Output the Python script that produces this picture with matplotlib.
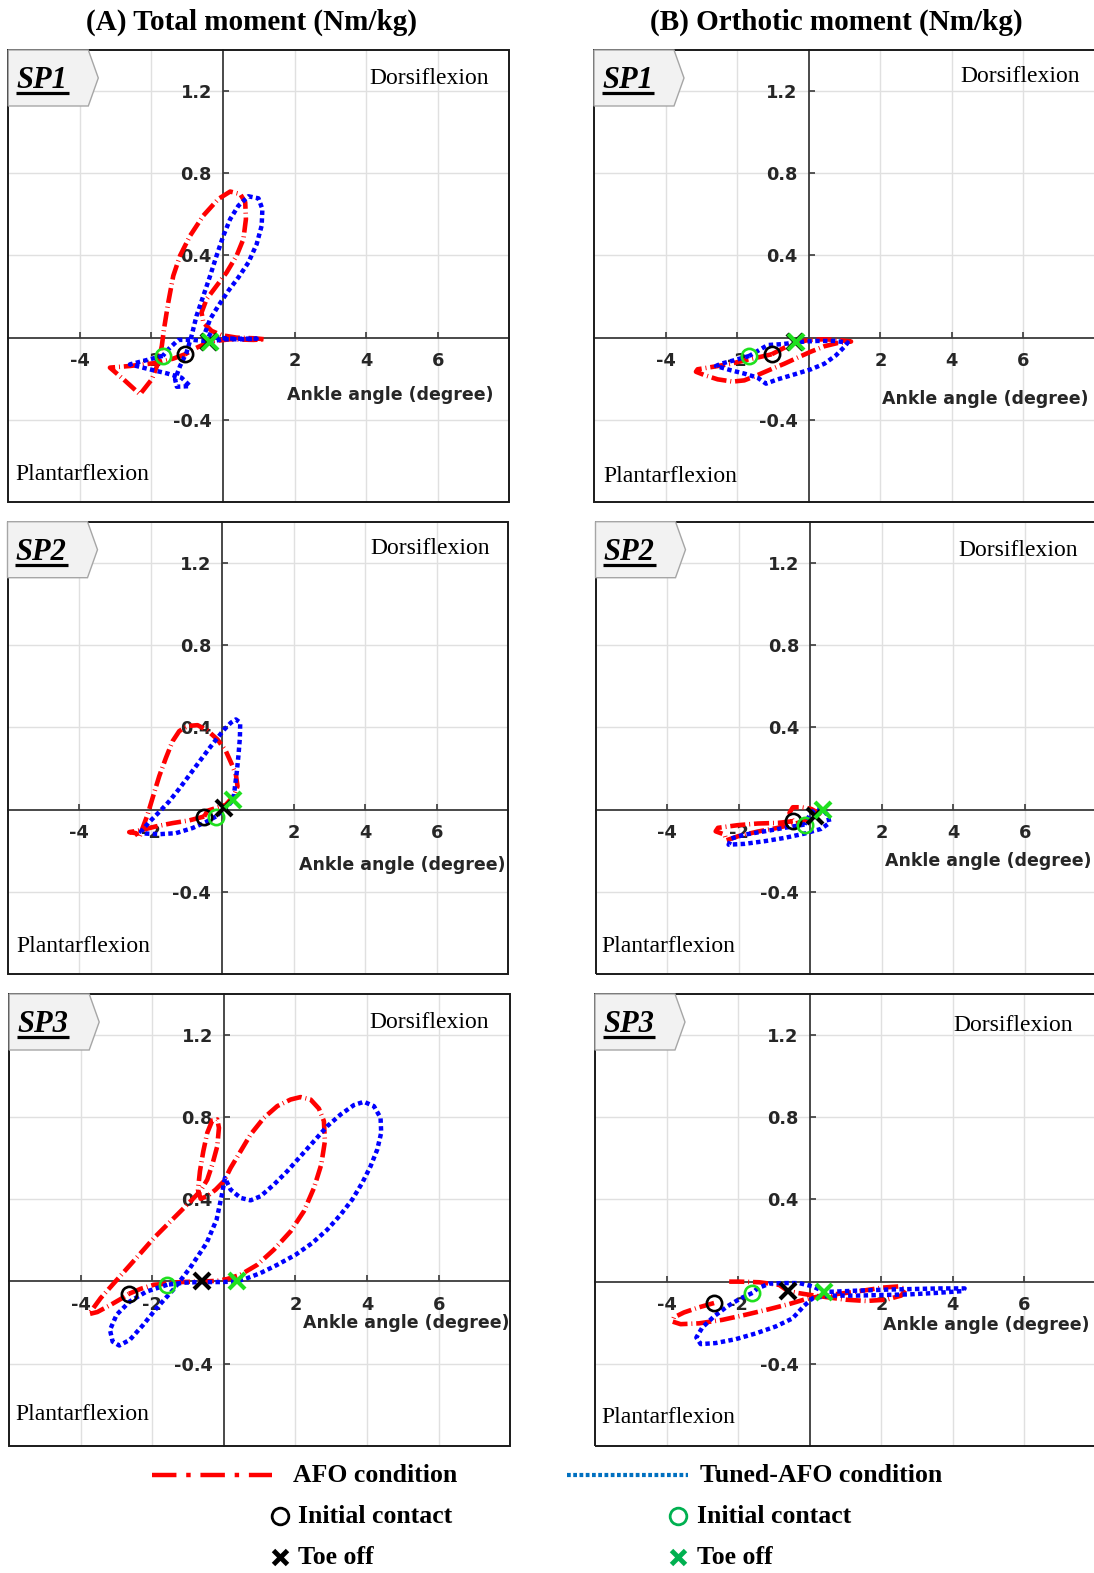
import matplotlib
matplotlib.use("Agg")
import matplotlib.pyplot as plt
from matplotlib.patches import Polygon, Rectangle

plt.rcParams["axes.unicode_minus"] = False

SERIF = ["Liberation Serif", "DejaVu Serif"]
SANS = ["DejaVu Sans"]

# ------------------------------------------------------------------
# Moment-angle loops (x: ankle angle in degree, y: moment in Nm/kg)
# ------------------------------------------------------------------
# (A) Total moment
SP1_TOTAL_AFO_X = [-1.06, -1.39, -1.81, -2.60, -3.16, -2.78, -2.32, -1.99, -1.81, -1.71,
                   -1.65, -1.53, -1.39, -1.20, -0.92, -0.55, -0.13, 0.20, 0.48, 0.62,
                   0.64, 0.57, 0.38, 0.10, -0.18, -0.46, -0.60, -0.55, -0.32, -0.04,
                   0.38, 0.85, 1.17, 0.85, 0.20, -0.36, -0.75, -1.06]
SP1_TOTAL_AFO_Y = [-0.081, -0.102, -0.122, -0.138, -0.146, -0.203, -0.276, -0.203, -0.122, -0.040,
                   0.041, 0.171, 0.301, 0.399, 0.496, 0.594, 0.675, 0.711, 0.699, 0.659,
                   0.577, 0.480, 0.399, 0.317, 0.252, 0.187, 0.122, 0.073, 0.033, 0.012,
                   0.0, -0.003, -0.008, -0.011, -0.008, -0.019, -0.050, -0.081]
SP1_TOTAL_TUNED_X = [-1.685, -2.13, -2.60, -2.13, -1.57, -1.16, -0.92, -1.29, -1.34, -1.20,
                     -1.02, -0.88, -0.74, -0.55, -0.36, -0.18, 0.01, 0.20, 0.43, 0.71,
                     0.99, 1.10, 1.08, 0.94, 0.71, 0.43, 0.15, -0.13, -0.36, -0.50,
                     -0.22, 0.29, 0.94, 0.66, 0.01, -0.36, -0.83, -1.25, -1.53, -1.685]
SP1_TOTAL_TUNED_Y = [-0.089, -0.109, -0.130, -0.151, -0.174, -0.195, -0.236, -0.239, -0.203, -0.138,
                     -0.073, 0.008, 0.106, 0.203, 0.301, 0.399, 0.496, 0.577, 0.642, 0.688,
                     0.678, 0.626, 0.545, 0.455, 0.366, 0.293, 0.228, 0.155, 0.090, 0.025,
                     0.0, -0.005, -0.005, -0.008, -0.008, -0.019, -0.011, -0.011, -0.057, -0.089]

SP2_TOTAL_AFO_X = [-0.503, -0.922, -1.387, -1.853, -2.225, -2.598, -2.411, -2.318, -2.225, -2.086,
                   -1.946, -1.760, -1.573, -1.387, -1.201, -0.968, -0.689, -0.410, -0.130, 0.102,
                   0.270, 0.382, 0.428, 0.335, 0.102, -0.177, -0.410, -0.503]
SP2_TOTAL_AFO_Y = [-0.033, -0.052, -0.065, -0.081, -0.098, -0.109, -0.114, -0.135, -0.089, -0.024,
                   0.057, 0.163, 0.252, 0.333, 0.382, 0.407, 0.411, 0.385, 0.341, 0.285,
                   0.220, 0.171, 0.114, 0.070, 0.024, 0.008, -0.005, -0.033]
SP2_TOTAL_TUNED_X = [-0.177, -0.456, -0.829, -1.294, -1.760, -2.132, -2.272, -2.039, -1.760, -1.480,
                     -1.201, -0.922, -0.642, -0.363, -0.130, 0.056, 0.242, 0.382, 0.503, 0.494,
                     0.456, 0.410, 0.363, 0.335, 0.307, 0.149, 0.009, -0.177]
SP2_TOTAL_TUNED_Y = [-0.033, -0.060, -0.089, -0.114, -0.119, -0.116, -0.106, -0.060, -0.011, 0.041,
                     0.102, 0.167, 0.233, 0.298, 0.350, 0.390, 0.423, 0.439, 0.423, 0.350,
                     0.268, 0.187, 0.122, 0.081, 0.049, 0.016, -0.005, -0.033]

SP3_TOTAL_AFO_X = [-2.653, -2.327, -1.954, -1.582, -1.209, -0.604, -0.185, 0.094, 0.466, 0.932,
                   1.398, 1.863, 2.235, 2.515, 2.720, 2.822, 2.794, 2.654, 2.422, 2.142,
                   1.863, 1.491, 1.118, 0.746, 0.466, 0.187, 0.0, -0.232, -0.465, -0.651,
                   -0.725, -0.670, -0.576, -0.465, -0.325, -0.185, -0.139, -0.185, -0.325, -0.465,
                   -0.651, -0.884, -1.209, -1.582, -1.954, -2.327, -2.699, -3.072, -3.444, -3.770,
                   -3.537, -3.165, -2.839, -2.653]
SP3_TOTAL_AFO_Y = [-0.060, -0.036, -0.016, -0.011, -0.003, 0.0, 0.003, 0.012, 0.033, 0.081,
                   0.155, 0.244, 0.342, 0.455, 0.569, 0.683, 0.781, 0.842, 0.886, 0.898,
                   0.886, 0.854, 0.797, 0.716, 0.634, 0.553, 0.488, 0.447, 0.415, 0.403,
                   0.447, 0.537, 0.634, 0.724, 0.784, 0.789, 0.748, 0.659, 0.569, 0.496,
                   0.442, 0.399, 0.342, 0.277, 0.212, 0.138, 0.065, -0.008, -0.081, -0.159,
                   -0.149, -0.114, -0.081, -0.060]
SP3_TOTAL_TUNED_X = [-1.582, -2.160, -2.626, -2.998, -3.184, -3.110, -2.924, -2.626, -2.253, -1.881,
                     -1.415, -0.950, -0.484, -0.205, -0.065, 0.028, 0.187, 0.466, 0.746, 1.025,
                     1.398, 1.770, 2.142, 2.515, 2.887, 3.260, 3.632, 3.911, 4.191, 4.377,
                     4.395, 4.284, 4.098, 3.865, 3.586, 3.260, 2.887, 2.468, 2.003, 1.491,
                     1.025, 0.653, 0.373, -0.093, -0.651, -1.117, -1.582]
SP3_TOTAL_TUNED_Y = [-0.016, -0.049, -0.097, -0.162, -0.236, -0.293, -0.312, -0.284, -0.211, -0.130,
                     -0.040, 0.065, 0.187, 0.301, 0.415, 0.504, 0.447, 0.407, 0.395, 0.415,
                     0.472, 0.537, 0.610, 0.683, 0.756, 0.813, 0.859, 0.875, 0.854, 0.797,
                     0.724, 0.642, 0.561, 0.480, 0.399, 0.325, 0.252, 0.187, 0.130, 0.081,
                     0.041, 0.016, 0.0, -0.003, -0.003, -0.006, -0.016]

# (B) Orthotic moment
SP1_ORTHO_AFO_X = [-1.035, -1.334, -1.706, -2.172, -2.638, -3.104, -3.151, -2.918, -2.545, -2.126,
                   -1.800, -1.427, -1.054, -0.681, -0.308, 0.064, 0.437, 0.810, 1.183, 0.903,
                   0.437, 0.018, -0.355, -0.681, -1.035]
SP1_ORTHO_AFO_Y = [-0.081, -0.093, -0.107, -0.127, -0.141, -0.154, -0.166, -0.182, -0.203, -0.214,
                   -0.208, -0.182, -0.154, -0.127, -0.097, -0.068, -0.042, -0.026, -0.019, -0.013,
                   -0.008, -0.011, -0.024, -0.049, -0.081]
SP1_ORTHO_TUNED_X = [-1.660, -2.079, -2.452, -2.592, -2.172, -1.800, -1.427, -1.194, -0.868, -0.402,
                     0.064, 0.437, 0.763, 0.996, 1.089, 0.717, 0.251, -0.122, -0.355, -0.774,
                     -1.147, -1.427, -1.660]
SP1_ORTHO_TUNED_Y = [-0.089, -0.110, -0.127, -0.138, -0.159, -0.175, -0.195, -0.224, -0.203, -0.179,
                     -0.154, -0.127, -0.086, -0.045, -0.024, -0.016, -0.016, -0.019, -0.024, -0.032,
                     -0.036, -0.065, -0.089]

SP2_ORTHO_AFO_X = [-0.485, -0.903, -1.461, -2.019, -2.577, -2.642, -2.391, -2.345, -2.019, -1.461,
                   -0.903, -0.345, 0.120, 0.259, 0.027, -0.252, -0.485, -0.578, -0.485]
SP2_ORTHO_AFO_Y = [-0.057, -0.065, -0.068, -0.076, -0.089, -0.106, -0.122, -0.150, -0.130, -0.107,
                   -0.089, -0.065, -0.036, -0.020, 0.003, 0.011, 0.011, -0.016, -0.057]
SP2_ORTHO_TUNED_X = [-0.159, -0.717, -1.275, -1.833, -2.205, -2.280, -1.833, -1.275, -0.717, -0.159,
                     0.306, 0.539, 0.492, 0.352, 0.120, -0.020, -0.159]
SP2_ORTHO_TUNED_Y = [-0.073, -0.089, -0.106, -0.122, -0.141, -0.171, -0.167, -0.154, -0.138, -0.117,
                     -0.094, -0.065, -0.029, 0.0, 0.0, -0.029, -0.073]

SP3_ORTHO_AFO_X = [-2.673, -3.094, -3.514, -3.794, -3.840, -3.607, -3.094, -2.440, -1.787, -1.133,
                   -0.573, -0.106, 0.360, 0.920, 1.481, 2.041, 2.507, 2.675, 2.554, 2.134,
                   1.574, 1.014, 0.454, -0.013, -0.340, -0.620, -0.853, -1.413, -1.973, -2.253]
SP3_ORTHO_AFO_Y = [-0.104, -0.125, -0.150, -0.174, -0.194, -0.207, -0.203, -0.186, -0.161, -0.134,
                   -0.109, -0.085, -0.068, -0.057, -0.044, -0.029, -0.023, -0.039, -0.068, -0.088,
                   -0.094, -0.088, -0.075, -0.064, -0.055, -0.044, -0.016, -0.003, 0.0, 0.0]
SP3_ORTHO_TUNED_X = [-1.600, -1.927, -2.300, -2.673, -3.000, -3.168, -3.047, -2.627, -2.067, -1.507,
                     -0.947, -0.480, -0.153, 0.080, 0.547, 1.294, 2.041, 2.787, 3.534, 4.281,
                     4.328, 3.627, 2.881, 2.134, 1.294, 0.640, 0.407, 0.080, -0.293, -0.760,
                     -1.133, -1.460, -1.600]
SP3_ORTHO_TUNED_Y = [-0.055, -0.081, -0.120, -0.169, -0.223, -0.272, -0.304, -0.299, -0.280, -0.252,
                     -0.218, -0.179, -0.117, -0.081, -0.068, -0.068, -0.065, -0.062, -0.055, -0.046,
                     -0.033, -0.033, -0.036, -0.039, -0.044, -0.049, -0.049, -0.023, -0.007, -0.007,
                     -0.010, -0.033, -0.055]

# Gait events: (angle, moment) at initial contact (IC) and toe off (TO)
SP1_TOTAL_AFO_IC, SP1_TOTAL_AFO_TO = (-1.06, -0.081), (-0.40, -0.020)
SP1_TOTAL_TUNED_IC, SP1_TOTAL_TUNED_TO = (-1.685, -0.089), (-0.36, -0.019)
SP2_TOTAL_AFO_IC, SP2_TOTAL_AFO_TO = (-0.503, -0.033), (0.06, 0.008)
SP2_TOTAL_TUNED_IC, SP2_TOTAL_TUNED_TO = (-0.177, -0.033), (0.307, 0.049)
SP3_TOTAL_AFO_IC, SP3_TOTAL_AFO_TO = (-2.653, -0.060), (-0.604, 0.0)
SP3_TOTAL_TUNED_IC, SP3_TOTAL_TUNED_TO = (-1.582, -0.016), (0.373, 0.0)
SP1_ORTHO_AFO_IC, SP1_ORTHO_AFO_TO = (-1.035, -0.081), (-0.38, -0.022)
SP1_ORTHO_TUNED_IC, SP1_ORTHO_TUNED_TO = (-1.660, -0.089), (-0.355, -0.019)
SP2_ORTHO_AFO_IC, SP2_ORTHO_AFO_TO = (-0.485, -0.057), (0.12, -0.030)
SP2_ORTHO_TUNED_IC, SP2_ORTHO_TUNED_TO = (-0.159, -0.073), (0.352, 0.0)
SP3_ORTHO_AFO_IC, SP3_ORTHO_AFO_TO = (-2.673, -0.104), (-0.620, -0.044)
SP3_ORTHO_TUNED_IC, SP3_ORTHO_TUNED_TO = (-1.600, -0.055), (0.407, -0.049)

X_TICKS = [-4, -2, 2, 4, 6]
Y_TICKS = [-0.4, 0.4, 0.8, 1.2]
X_LIM = (-6, 8)
Y_LIM = (-0.8, 1.4)

SUBJECTS = ["SP1", "SP2", "SP3"]
COLUMN_TITLES = ["(A) Total moment (Nm/kg)", "(B) Orthotic moment (Nm/kg)"]
X_LABEL = "Ankle angle (degree)"
UPPER_LABEL = "Dorsiflexion"
LOWER_LABEL = "Plantarflexion"
LEGEND_LINES = ["AFO condition", "Tuned-AFO condition"]
LEGEND_EVENTS = ["Initial contact", "Toe off"]

RED = "#ff0000"
BLUE = "#0000ff"
LIME = "#1fe01f"
LEG_GREEN = "#00b050"
LEG_BLUE = "#0070c0"
RED_DASH = (0, (3.3, 0.85, 0.2, 0.85))
BLUE_DOT = (0, (1.0, 0.75))

# ------------------------------------------------------------------
W, H = 1094, 1573
fig = plt.figure(figsize=(W / 100, H / 100), dpi=100)

PANEL_W = 501
# (column, row): left, top, bottom of each panel in pixels
FRAMES = {
    (0, 0): (8.3, 50.0, 502.0), (1, 0): (594.0, 50.0, 502.0),
    (0, 1): (7.5, 521.7, 974.3), (1, 1): (595.5, 521.7, 974.0),
    (0, 2): (9.2, 994.0, 1445.7), (1, 2): (595.0, 994.0, 1446.0),
}
XLABEL_POS = {(0, 0): (1.8, -0.28), (1, 0): (2.05, -0.30), (0, 1): (2.15, -0.27),
              (1, 1): (2.08, -0.25), (0, 2): (2.2, -0.20), (1, 2): (2.05, -0.21)}
UPPER_POS = {(0, 0): (7.44, 1.26), (1, 0): (7.58, 1.273), (0, 1): (7.48, 1.27),
             (1, 1): (7.49, 1.26), (0, 2): (7.41, 1.263), (1, 2): (7.36, 1.249)}
LOWER_POS = {(0, 0): (-5.81, -0.665), (1, 0): (-5.75, -0.675), (0, 1): (-5.74, -0.667),
             (1, 1): (-5.83, -0.667), (0, 2): (-5.84, -0.650), (1, 2): (-5.82, -0.662)}

PANELS = {
    (0, 0): (SP1_TOTAL_AFO_X, SP1_TOTAL_AFO_Y, SP1_TOTAL_TUNED_X, SP1_TOTAL_TUNED_Y,
             SP1_TOTAL_AFO_IC, SP1_TOTAL_AFO_TO, SP1_TOTAL_TUNED_IC, SP1_TOTAL_TUNED_TO),
    (0, 1): (SP2_TOTAL_AFO_X, SP2_TOTAL_AFO_Y, SP2_TOTAL_TUNED_X, SP2_TOTAL_TUNED_Y,
             SP2_TOTAL_AFO_IC, SP2_TOTAL_AFO_TO, SP2_TOTAL_TUNED_IC, SP2_TOTAL_TUNED_TO),
    (0, 2): (SP3_TOTAL_AFO_X, SP3_TOTAL_AFO_Y, SP3_TOTAL_TUNED_X, SP3_TOTAL_TUNED_Y,
             SP3_TOTAL_AFO_IC, SP3_TOTAL_AFO_TO, SP3_TOTAL_TUNED_IC, SP3_TOTAL_TUNED_TO),
    (1, 0): (SP1_ORTHO_AFO_X, SP1_ORTHO_AFO_Y, SP1_ORTHO_TUNED_X, SP1_ORTHO_TUNED_Y,
             SP1_ORTHO_AFO_IC, SP1_ORTHO_AFO_TO, SP1_ORTHO_TUNED_IC, SP1_ORTHO_TUNED_TO),
    (1, 1): (SP2_ORTHO_AFO_X, SP2_ORTHO_AFO_Y, SP2_ORTHO_TUNED_X, SP2_ORTHO_TUNED_Y,
             SP2_ORTHO_AFO_IC, SP2_ORTHO_AFO_TO, SP2_ORTHO_TUNED_IC, SP2_ORTHO_TUNED_TO),
    (1, 2): (SP3_ORTHO_AFO_X, SP3_ORTHO_AFO_Y, SP3_ORTHO_TUNED_X, SP3_ORTHO_TUNED_Y,
             SP3_ORTHO_AFO_IC, SP3_ORTHO_AFO_TO, SP3_ORTHO_TUNED_IC, SP3_ORTHO_TUNED_TO),
}

TAG_RECT_W, TAG_TIP_W, TAG_H = 80.0, 90.0, 56.0
tag_texts = []

for key, (afo_x, afo_y, tun_x, tun_y, afo_ic, afo_to, tun_ic, tun_to) in PANELS.items():
    col, row = key
    left, top, bottom = FRAMES[key]
    ph = bottom - top
    ax = fig.add_axes([left / W, 1 - bottom / H, PANEL_W / W, ph / H])
    ax.set_xlim(*X_LIM)
    ax.set_ylim(*Y_LIM)
    ax.set_axisbelow(True)

    # axes crossing at the origin, framed by a box
    for s in ("top", "right"):
        ax.spines[s].set_visible(False)
    for s in ("left", "bottom"):
        ax.spines[s].set_position(("data", 0))
        ax.spines[s].set_color("#3a3a3a")
        ax.spines[s].set_linewidth(1.3)
        ax.spines[s].set_zorder(1.5)
    ax.add_patch(Rectangle((0, 0), 1, 1, transform=ax.transAxes, fill=False,
                           ec="#1a1a1a", lw=1.4, clip_on=False, zorder=6))

    ax.set_xticks(X_TICKS)
    ax.set_yticks(Y_TICKS)
    ax.set_xticklabels([f"{v:g}" for v in X_TICKS])
    ax.set_yticklabels([f"{v:.1f}" for v in Y_TICKS])
    ax.tick_params(direction="in", length=4, width=1.2, color="#3a3a3a",
                   labelcolor="#262626", labelsize=12.8)
    ax.tick_params(axis="x", pad=10.5)
    ax.tick_params(axis="y", pad=8)
    for lab in ax.get_xticklabels() + ax.get_yticklabels():
        lab.set_fontweight("bold")
        lab.set_family(SANS)
    ax.grid(True, color="#e0e0e0", lw=1.0)

    # loops
    ax.plot(afo_x, afo_y, color=RED, lw=3.3, ls=RED_DASH, zorder=3)
    ax.plot(tun_x, tun_y, color=BLUE, lw=3.2, ls=BLUE_DOT, zorder=3.2)

    # gait events
    ax.plot(*afo_ic, marker="o", ms=11, mfc="none", mec="black", mew=1.9, zorder=5, ls="none")
    ax.plot(*tun_ic, marker="o", ms=11, mfc="none", mec=LIME, mew=1.9, zorder=5, ls="none")
    ax.plot(*afo_to, marker="x", ms=11.5, mec="black", mew=3.0, zorder=5.2, ls="none")
    ax.plot(*tun_to, marker="x", ms=11.5, mec=LIME, mew=3.0, zorder=5.4, ls="none")

    # annotations
    xl = XLABEL_POS[key]
    ax.text(xl[0], xl[1], X_LABEL, ha="left", va="center", fontsize=12.5,
            fontweight="bold", family=SANS, color="#262626", zorder=4)
    up = UPPER_POS[key]
    ax.text(up[0], up[1], UPPER_LABEL, ha="right", va="center", fontsize=17,
            family=SERIF, color="black", zorder=4)
    lo = LOWER_POS[key]
    ax.text(lo[0], lo[1], LOWER_LABEL, ha="left", va="center", fontsize=17,
            family=SERIF, color="black", zorder=4)

    # subject tag
    tag = Polygon([(0, 1), (TAG_RECT_W / PANEL_W, 1),
                   (TAG_TIP_W / PANEL_W, 1 - TAG_H / 2 / ph),
                   (TAG_RECT_W / PANEL_W, 1 - TAG_H / ph), (0, 1 - TAG_H / ph)],
                  closed=True, transform=ax.transAxes, fc="#f2f2f2", ec="#a6a6a6",
                  lw=1.0, clip_on=False, zorder=7)
    ax.add_patch(tag)
    base_y = 1 - 38.3 / ph
    t = ax.text(8.4 / PANEL_W, base_y, SUBJECTS[row], transform=ax.transAxes,
                ha="left", va="baseline", fontsize=22, fontweight="bold",
                fontstyle="italic", family=SERIF, color="black", zorder=8)
    tag_texts.append((ax, t, base_y - 4.6 / ph))

# overlay in pixel coordinates for titles and legend
ov = fig.add_axes([0, 0, 1, 1])
ov.set_xlim(0, W)
ov.set_ylim(H, 0)
ov.axis("off")

for cx, title in zip([251, 836], COLUMN_TITLES):
    ov.text(cx, 30, title, ha="center", va="baseline", fontsize=21,
            fontweight="bold", family=SERIF)

ROW_Y = [1475, 1516, 1557]
leg_font = dict(va="baseline", fontsize=18.5, fontweight="bold", family=SERIF)
TEXT_DROP = 7
ov.plot([152, 272], [ROW_Y[0], ROW_Y[0]], color=RED, lw=3.2, ls=(0, (5.5, 2.2, 1.0, 2.2)))
ov.text(293, ROW_Y[0] + TEXT_DROP, LEGEND_LINES[0], **leg_font)
ov.plot([567, 688], [ROW_Y[0], ROW_Y[0]], color=LEG_BLUE, lw=3.0, ls=(0, (0.9, 0.6)))
ov.text(700, ROW_Y[0] + TEXT_DROP, LEGEND_LINES[1], **leg_font)

ov.plot([280], [ROW_Y[1]], marker="o", ms=12, mfc="none", mec="black", mew=2.0, ls="none")
ov.text(298, ROW_Y[1] + TEXT_DROP, LEGEND_EVENTS[0], **leg_font)
ov.plot([280], [ROW_Y[2]], marker="x", ms=10, mec="black", mew=3.5, ls="none")
ov.text(298, ROW_Y[2] + TEXT_DROP, LEGEND_EVENTS[1], **leg_font)
ov.plot([678], [ROW_Y[1]], marker="o", ms=12, mfc="none", mec=LEG_GREEN, mew=2.0, ls="none")
ov.text(697, ROW_Y[1] + TEXT_DROP, LEGEND_EVENTS[0], **leg_font)
ov.plot([678], [ROW_Y[2]], marker="x", ms=10, mec=LEG_GREEN, mew=3.5, ls="none")
ov.text(697, ROW_Y[2] + TEXT_DROP, LEGEND_EVENTS[1], **leg_font)

# underline the subject tags
fig.canvas.draw()
renderer = fig.canvas.get_renderer()
for ax, t, uy in tag_texts:
    bb = t.get_window_extent(renderer).transformed(ax.transAxes.inverted())
    ax.plot([bb.x0 - 0.001, bb.x1 + 0.002], [uy, uy], transform=ax.transAxes,
            color="black", lw=2.3, solid_capstyle="butt", clip_on=False, zorder=8)

fig.savefig("out.png", dpi=100)
